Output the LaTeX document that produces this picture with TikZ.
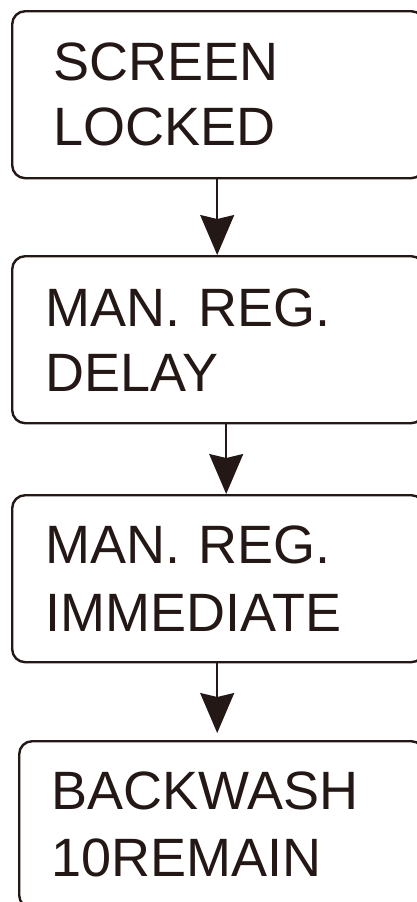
\documentclass[tikz,border=0pt]{standalone}
\usepackage{fontspec}
\setmainfont{Liberation Sans}
\usetikzlibrary{arrows.meta}
\definecolor{ink}{RGB}{35,24,21}
\begin{document}
\begin{tikzpicture}[x=1pt,y=1pt,
		screen/.style={draw=ink,line width=2.4pt,rounded corners=13pt,anchor=north west,align=left,text=ink,font=\fontsize{54}{65}\selectfont,minimum height=167pt},
		flow/.style={draw=ink,line width=1.5pt,-{Stealth[length=40pt,width=34pt,inset=4pt]}}]
		\useasboundingbox (0,0) rectangle (417,-902);
		\node (locked) at (11, -10) [screen,inner xsep=41pt,text width=330pt] {SCREEN\\LOCKED};
		\node (delay) at (11, -255) [screen,inner xsep=33pt,text width=346pt] {MAN. REG.\\DELAY};
		\node (immediate) at (11, -494) [screen,inner xsep=33pt,text width=346pt,font=\fontsize{54}{68}\selectfont] {MAN. REG.\\IMMEDIATE};
		\node (backwash) at (18, -740) [screen,inner xsep=32pt,text width=341pt,font=\fontsize{54}{67}\selectfont] {BACKWASH\\10REMAIN};
		\draw[flow] ([xshift=-1pt]locked.south)--([xshift=-1pt]delay.north);
		\draw[flow] ([xshift=8pt]delay.south)--([xshift=8pt]immediate.north);
		\draw[flow] ([xshift=-1pt]immediate.south)--([xshift=-4.5pt,yshift=7pt]backwash.north);
	\end{tikzpicture}
\end{document}
